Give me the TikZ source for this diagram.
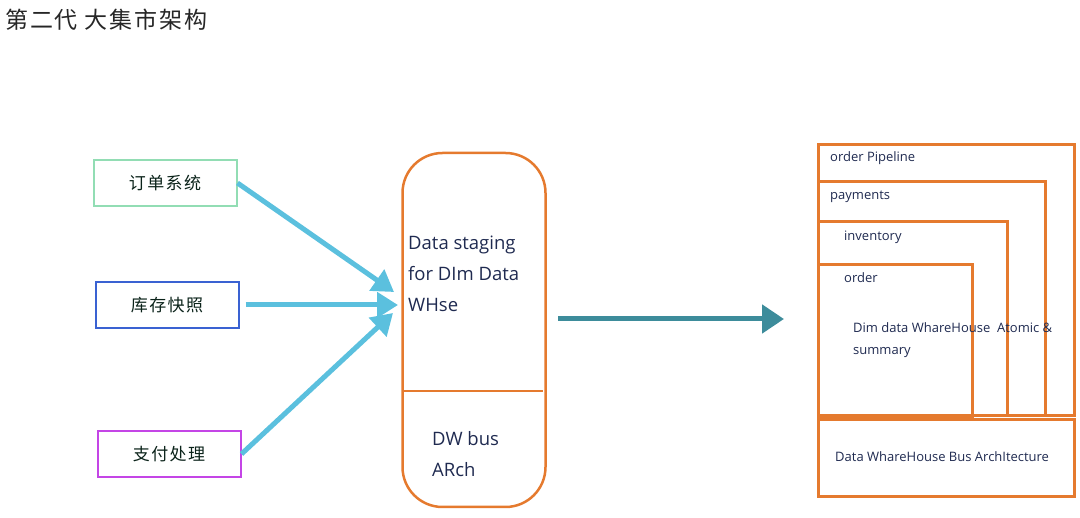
\documentclass[tikz,border=0pt]{standalone}
\usepackage{fontspec}
\setmainfont{Open Sans}
\newfontfamily\cjk[LetterSpace=8]{Noto Sans CJK SC}
\usetikzlibrary{positioning,arrows.meta,calc}
\definecolor{ink}{HTML}{1F2A50}
\definecolor{sketchorange}{HTML}{E57A2E}
\definecolor{srcgreen}{HTML}{92DDB4}
\definecolor{srcblue}{HTML}{3A62D2}
\definecolor{srcpurple}{HTML}{C445E6}
\definecolor{feedcyan}{HTML}{5BC0DE}
\definecolor{loadteal}{HTML}{3D8C9B}
\tikzset{
srcbox/.style={
  draw,
  line width=2pt,
  minimum width=143pt,
  minimum height=46pt,
  text=ink!80!green!40!black,
  font=\cjk\fontsize{17}{19}\selectfont
  },
martbox/.style={
  draw=sketchorange,
  line width=3pt,
  anchor=north west,
  inner sep=0pt
  },
martlabel/.style={
  anchor=west,
  text=ink,
  inner sep=0pt,
  font=\fontsize{13}{15}\selectfont
  },
feed/.style={
  draw=feedcyan,
  line width=5pt,
  -{Triangle[width=25pt,length=21pt]}
  }
}

\begin{document}
\begin{tikzpicture}[x=1pt,y=-1pt]
  \useasboundingbox (0,0) rectangle (1080,518);

  \node[anchor=west,inner sep=0pt,text=black!85,font=\cjk\fontsize{23}{26}\selectfont] (title) at (5,20) {第二代 大集市架构};

  \node[srcbox,draw=srcgreen]  (order) at (165,183) {订单系统};
  \node[srcbox,draw=srcblue]   (stock) at (167,305) {库存快照};
  \node[srcbox,draw=srcpurple] (pay)   at (169,454) {支付处理};

  \node[draw=sketchorange,line width=2.5pt,rounded corners=40pt,
        minimum width=143pt,minimum height=354pt] (staging) at (474,330) {};
  \coordinate (divy) at (0,391);
  \draw[sketchorange,line width=2.5pt,shorten <=3pt,shorten >=4pt] (staging.west |- divy) -- (staging.east |- divy);
  \node[anchor=north west,align=left,text=ink,inner sep=0pt,
        font=\fontsize{18.5}{31}\selectfont] (stagetext) at (408,236)
        {Data staging\\for DIm Data\\WHse};
  \node[anchor=north west,align=left,text=ink,inner sep=0pt,
        font=\fontsize{18.5}{31}\selectfont] (bustext) at (432,431)
        {DW bus\\ARch};

  \coordinate (tip1) at (394,292);
  \coordinate (tip2) at (398,305);
  \coordinate (tip3) at (393,313);
  \draw[feed] (order.east) -- (tip1);
  \draw[feed] ($(stock.east)+(6,0)$) -- (tip2);
  \draw[feed] (pay.east) -- (tip3);

  % dimensional warehouse
  \node[martbox,minimum width=256pt,minimum height=271pt] (pipeline) at (817,143) {};
  \node[martbox,minimum width=227pt,minimum height=234pt] (payments) at (817,180) {};
  \node[martbox,minimum width=189pt,minimum height=194pt] (inventory) at (817,220) {};
  \node[martbox,minimum width=154pt,minimum height=152pt] (ordermart) at (817,263) {};
  \node[martbox,minimum width=256pt,minimum height=77pt]  (bus) at (817,418) {};

  \node[martlabel] (pipelinetext)  at (830,158) {order Pipeline};
  \node[martlabel] (paymentstext)  at (830,197) {payments};
  \node[martlabel] (inventorytext) at (844,237) {inventory};
  \node[martlabel] (ordertext)     at (844,278) {order};
  \node[martlabel,anchor=north west,align=left,font=\fontsize{13}{22}\selectfont] (dimtext) at (853,322)
        {Dim data WhareHouse\ \ Atomic \&\\summary};
  \node[martlabel] (bustitle) at (835,457) {Data WhareHouse Bus ArchItecture};

  \coordinate (martin) at (784,319);
  \draw[loadteal,line width=5pt,-{Triangle[width=28pt,length=22pt]}] (558,319) -- (martin);
\end{tikzpicture}
\end{document}
